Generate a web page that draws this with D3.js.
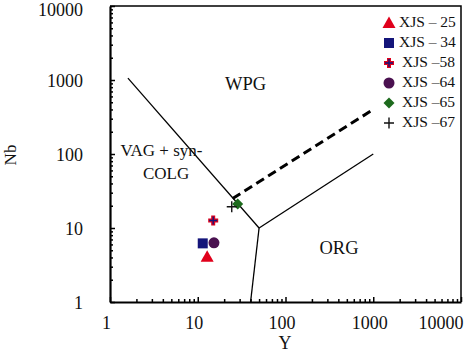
<!DOCTYPE html>
<html><head><meta charset="utf-8">
<script src="https://cdn.jsdelivr.net/npm/d3@7/dist/d3.min.js"></script>
<style>
body{margin:0;background:#fff;}
svg{display:block;font-family:"Liberation Serif","Times New Roman",serif;}
</style></head>
<body><svg id="c" width="473" height="354"></svg>
<script>
// ---- data ----
const samples = ["XJS – 25","XJS – 34","XJS –58","XJS –64","XJS –65","XJS –67"];
const sampleY  = [12.8, 11.4, 15.0, 15.3, 28.5, 24.4];
const sampleNb = [4.1, 6.2, 12.6, 6.3, 21.1, 19.4];
const shapes = ["triangle","square","cross","circle","diamond","plus"];
const colors = ["#e0001b","#14157a","#e0001b","#4a1150","#1d6a1d","#111111"];
const tickValues = [1,10,100,1000,10000];
// field boundaries (Pearce et al. 1984)
const boundaryWPG_VAG = [[1.6,1060],[50,10]];
const boundaryORG_VAG = [[40,1],[50,10]];
const boundaryORG_WPG = [[50,10],[1000,100]];
const boundaryDashed  = [[25,25],[1000,400]];
const fieldLabels = ["WPG","ORG","VAG + syn-","COLG"];
const fieldPos = [[35,830],[407,5.05],[3.86,106],[4.35,52]];

const svg = d3.select("#c");
const L=110,R=461,T=6,B=302;
const x = d3.scaleLog().domain([1,10000]).range([L,R]);
const y = d3.scaleLog().domain([1,10000]).range([B,T]);

const minor = [];
for (let d=1; d<10000; d*=10) for (let k=2;k<=9;k++) minor.push(d*k);

// border top/right
svg.append("path").attr("d",`M${L},${T}H${R}V${B}`).attr("fill","none").attr("stroke","#000").attr("stroke-width",1.5);

// x axis minor
svg.append("g").attr("transform",`translate(0,${B})`)
  .call(d3.axisBottom(x).tickValues(minor).tickSize(-3).tickFormat(""))
  .call(g=>g.select(".domain").remove())
  .selectAll("line").attr("stroke-width",1.5);
// y axis minor
svg.append("g").attr("transform",`translate(${L},0)`)
  .call(d3.axisLeft(y).tickValues(minor).tickSize(-3).tickFormat(""))
  .call(g=>g.select(".domain").remove())
  .selectAll("line").attr("stroke-width",1.5);

// x axis major
const gx = svg.append("g").attr("transform",`translate(0,${B})`)
  .call(d3.axisBottom(x).tickValues(tickValues).tickSize(-5).tickSizeOuter(0).tickPadding(14).tickFormat(d3.format("d")));
gx.select(".domain").attr("stroke-width",2.2);
gx.selectAll("line").attr("stroke-width",1.5);
gx.selectAll("text").attr("font-size",18).attr("font-family","Liberation Serif").attr("fill","#111").attr("dx",-4);
gx.selectAll("text").filter(d=>d===10000).attr("text-anchor","end").attr("dx",2);

// y axis major
const gy = svg.append("g").attr("transform",`translate(${L},0)`)
  .call(d3.axisLeft(y).tickValues(tickValues).tickSize(-5).tickSizeOuter(0).tickPadding(27).tickFormat(d3.format("d")));
gy.select(".domain").attr("stroke-width",2.2);
gy.selectAll("line").attr("stroke-width",1.5);
gy.selectAll("text").attr("font-size",18).attr("font-family","Liberation Serif").attr("fill","#111").attr("dy","0.38em");
gy.selectAll("text").filter(d=>d===10000).attr("dy","0.55em");

// axis titles
svg.append("text").attr("x",285).attr("y",349).attr("text-anchor","middle").attr("font-size",18).attr("fill","#111").text("Y");
svg.append("text").attr("transform","translate(16,155) rotate(-90)").attr("text-anchor","middle").attr("font-size",17).attr("fill","#111").text("Nb");

// boundaries
const line = d3.line().x(d=>x(d[0])).y(d=>y(d[1]));
[boundaryWPG_VAG,boundaryORG_VAG,boundaryORG_WPG].forEach(b=>{
  svg.append("path").attr("d",line(b)).attr("fill","none").attr("stroke","#000").attr("stroke-width",1.3);
});
svg.append("path").attr("d",line(boundaryDashed)).attr("fill","none").attr("stroke","#000")
  .attr("stroke-width",3).attr("stroke-dasharray","9,5");

// field labels
fieldLabels.forEach((t,i)=>{
  svg.append("text").attr("x",x(fieldPos[i][0])).attr("y",y(fieldPos[i][1]))
    .attr("text-anchor","middle").attr("dominant-baseline","middle")
    .attr("font-size",(t==="WPG"||t==="ORG")?18.5:17).attr("fill","#111").text(t);
});

// markers
function marker(g, shape, color){
  if(shape==="triangle") g.append("path").attr("d","M0,-6.5L6.5,5L-6.5,5Z").attr("fill",color);
  else if(shape==="square") g.append("rect").attr("x",-5).attr("y",-5).attr("width",10).attr("height",10).attr("fill",color);
  else if(shape==="circle") g.append("circle").attr("r",5.5).attr("fill",color);
  else if(shape==="diamond") g.append("path").attr("d","M0,-5.5L5.5,0L0,5.5L-5.5,0Z").attr("fill",color);
  else if(shape==="cross"){
    g.append("path").attr("d","M-5,0H5M0,-5V5").attr("stroke",color).attr("stroke-width",4);
    g.append("path").attr("d","M-4,0H4M0,-4V4").attr("stroke","#14157a").attr("stroke-width",1.4);
  } else if(shape==="plus"){
    g.append("path").attr("d","M-5,0H5M0,-5.5V5.5").attr("stroke",color).attr("stroke-width",1.4);
  }
}
samples.forEach((s,i)=>{
  const g = svg.append("g").attr("transform",`translate(${x(sampleY[i])},${y(sampleNb[i])})`);
  marker(g, shapes[i], colors[i]);
});

// legend
samples.forEach((s,i)=>{
  const cy = 23 + i*20;
  const g = svg.append("g").attr("transform",`translate(389,${cy})`);
  marker(g, shapes[i], colors[i]);
  svg.append("text").attr("x", i<2?399:402).attr("y",cy).attr("dominant-baseline","middle")
    .attr("font-size",15.5).attr("fill","#111").text(s);
});
</script></body></html>
